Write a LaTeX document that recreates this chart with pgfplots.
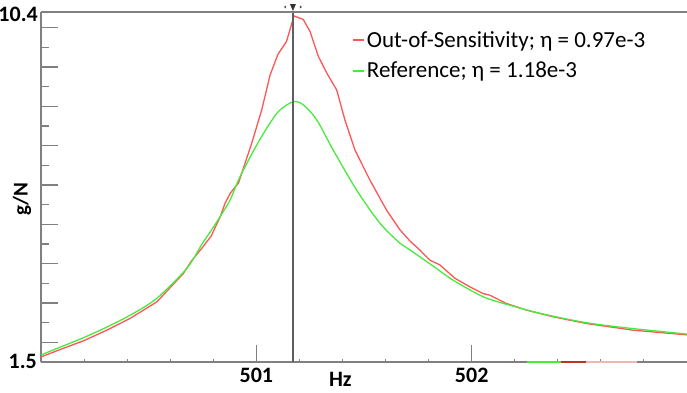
\documentclass[border=0pt]{standalone}
\usepackage{fontspec}
\setmainfont{Carlito}
\usepackage{pgfplots}
\pgfplotsset{compat=1.18}
\definecolor{cred}{RGB}{255,85,85}
\definecolor{cgreen}{RGB}{70,235,60}
\definecolor{axgray}{RGB}{128,128,128}
\definecolor{curgray}{RGB}{95,95,95}
\begin{document}
\begin{tikzpicture}
\begin{axis}[
  scale only axis, width=646pt, height=350pt,
  xmin=500, xmax=503, ymin=1.5, ymax=10.4,
  clip=false,
  axis x line*=bottom, axis y line*=left,
  axis line style={draw=axgray, line width=1.5pt, -},
  tick align=inside,
  tick style={axgray, line width=1.5pt},
  major tick length=17pt, minor tick length=8pt,
  xtick={501,502}, xticklabels={501,502},
  extra x ticks={500.2,500.4,500.6,500.8,501.2,501.4,501.6,501.8,502.2,502.4,502.6,502.8},
  extra x tick labels={},
  extra x tick style={major tick length=3pt, tick style={line width=1pt}},
  ytick={2,3,...,10}, yticklabels={},
  minor ytick={2.5,3.5,...,9.5},
  /pgf/number format/assume math mode=true,
  xticklabel style={font=\fontsize{22}{26}\selectfont\bfseries, inner sep=2pt, yshift=-4pt},
  legend style={at={(rel axis cs:0.481,0.950)}, anchor=north west, draw=none, fill=none,
    font=\fontsize{23}{27}\selectfont, inner sep=0pt, row sep=9pt, nodes={inner sep=2pt}},
  legend cell align=left,
  legend image code/.code={\draw[#1, line width=2pt] (0pt,0pt) -- (11pt,0pt);},
]
\addplot[cred, line width=1.3pt] coordinates {
(500.00,1.63) (500.09,1.82) (500.198,2.04) (500.306,2.31) (500.414,2.61)
(500.538,3.03) (500.661,3.75) (500.70,4.08) (500.745,4.38) (500.79,4.70)
(500.832,5.19) (500.855,5.54) (500.88,5.80) (500.917,6.05) (500.979,7.07)
(501.025,7.91) (501.064,8.80) (501.10,9.32) (501.14,9.65) (501.175,10.30)
(501.218,10.21) (501.249,9.91) (501.288,9.27) (501.327,8.85) (501.373,8.42)
(501.411,7.66) (501.458,6.89) (501.527,6.13) (501.605,5.36) (501.667,4.86)
(501.713,4.58) (501.759,4.35) (501.806,4.09) (501.852,3.97) (501.922,3.63)
(501.992,3.41) (502.053,3.24) (502.084,3.20) (502.161,2.99) (502.254,2.82)
(502.378,2.65) (502.532,2.48) (502.749,2.31) (503.0,2.19)
};
\addlegendentry{Out-of-Sensitivity; η = 0.97e-3}
\addplot[cgreen, line width=1.3pt, smooth] coordinates {
(500.00,1.68) (500.09,1.88) (500.198,2.12) (500.306,2.39) (500.414,2.69)
(500.538,3.12) (500.677,3.88) (500.75,4.52) (500.79,4.84) (500.832,5.20)
(500.878,5.62) (500.924,6.21) (501.00,7.00) (501.064,7.58) (501.11,7.91)
(501.172,8.12) (501.218,8.04) (501.28,7.66) (501.357,6.89) (501.466,5.87)
(501.574,5.03) (501.667,4.52) (501.713,4.35) (501.821,3.94) (501.914,3.58)
(502.053,3.16) (502.161,2.97) (502.316,2.74) (502.532,2.50) (502.749,2.35)
(503.0,2.21)
};
\addlegendentry{Reference; η = 1.18e-3}
\addplot[forget plot, curgray, line width=1.5pt] coordinates {(501.17,1.5) (501.17,10.4)};
\addplot[forget plot, cgreen, line width=1.5pt] coordinates {(502.255,1.5) (502.417,1.5)};
\addplot[forget plot, draw={rgb,255:red,185;green,55;blue,30}, line width=1.5pt] coordinates {(502.417,1.5) (502.533,1.5)};
\addplot[forget plot, draw={rgb,255:red,245;green,180;blue,180}, line width=1.5pt] coordinates {(502.533,1.5) (502.766,1.5)};
\draw[axgray, line width=1.5pt] (rel axis cs:0,1) -- (rel axis cs:1,1);
\fill[black!80] (axis cs:501.17,10.4) ++(-3pt,8pt) -- ++(6pt,0pt) -- ++(-3pt,-7pt) -- cycle;
\fill[black!70] (axis cs:501.17,10.4) ++(-9pt,5pt) -- ++(2pt,1.5pt) -- ++(0pt,-3pt) -- cycle;
\fill[black!70] (axis cs:501.17,10.4) ++(9pt,5pt) -- ++(-2pt,1.5pt) -- ++(0pt,-3pt) -- cycle;
\node[font=\fontsize{22}{26}\selectfont\bfseries, anchor=east, inner sep=0pt] at ([xshift=-3pt,yshift=-2pt]rel axis cs:0,1) {10.4};
\node[font=\fontsize{22}{26}\selectfont\bfseries, anchor=east, inner sep=0pt] at ([xshift=-4pt,yshift=1pt]rel axis cs:0,0) {1.5};
\node[font=\fontsize{22}{26}\selectfont\bfseries, anchor=base, inner sep=0pt] at ([yshift=-24pt]axis cs:501.39,1.5) {Hz};
\node[font=\fontsize{21}{25}\selectfont\bfseries, rotate=90, inner sep=0pt] at ([xshift=-19pt]rel axis cs:0,0.466) {g/N};
\end{axis}
\pgfresetboundingbox
\path[use as bounding box] (-41pt,-30pt) rectangle (646pt,362pt);
\end{tikzpicture}
\end{document}
